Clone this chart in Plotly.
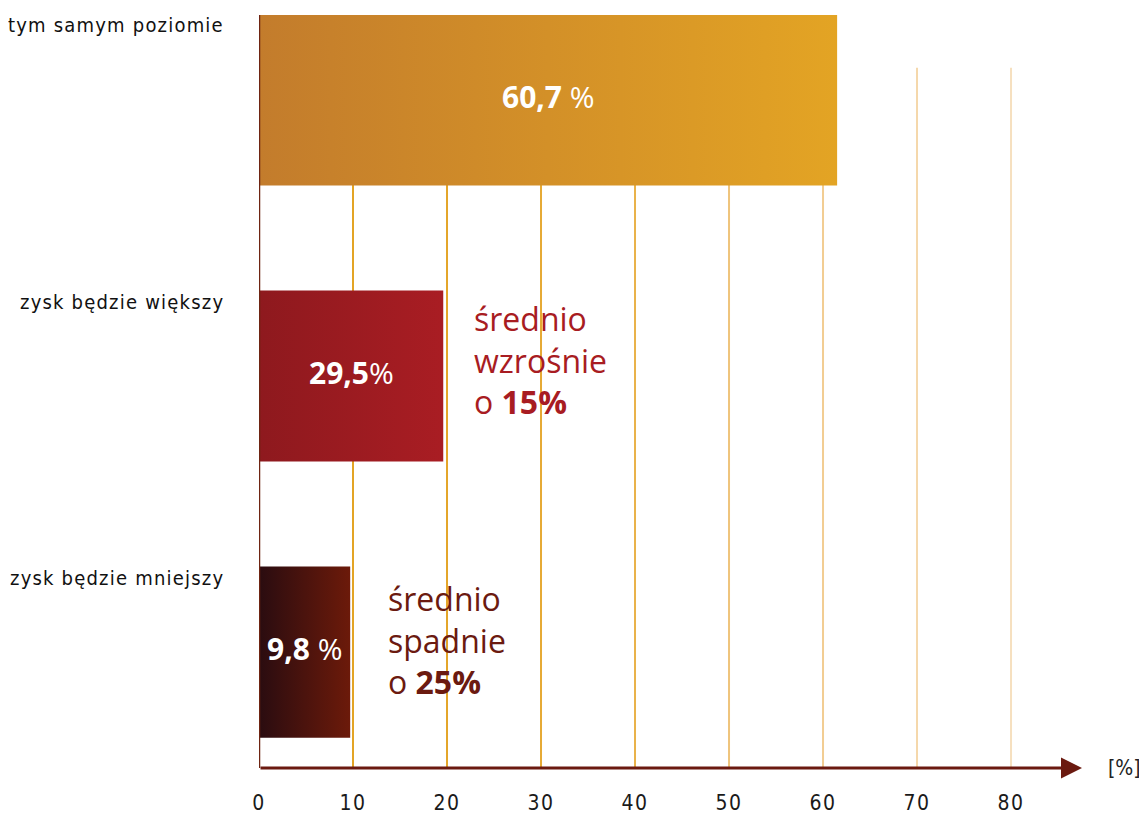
import plotly.graph_objects as go

# ---- data ----
categories = ["tym samym poziomie", "zysk będzie większy", "zysk będzie mniejszy"]
bar_lengths = [61.5, 19.6, 9.7]            # bar extent
value_labels = ["60,7", "29,5", "9,8"]     # printed values
value_suffix = [" %", "%", " %"]
side_notes = [None,
              ("średnio", "wzrośnie", "o ", "15%"),
              ("średnio", "spadnie", "o ", "25%")]
tick_values = [0, 10, 20, 30, 40, 50, 60, 70, 80]
tick_labels = ["0", "10", "20", "30", "40", "50", "60", "70", "80"]

# ---- styles ----
y_pos = [2, 1, 0]
half = 0.31
YMIN, YMAX = -0.42, 2.308
grads = [("#c37c2c", "#e3a424"), ("#8e191e", "#a91d23"), ("#2a0c10", "#6c1a0a")]
note_colors = [None, "#a81c22", "#6b1a10"]
grid_colors = ["#e3a425", "#e4a62a", "#e6aa35", "#e9b24a", "#efc47c",
               "#f2cd92", "#f5d8ab", "#f6e0bf"]
brown = "#6b1a10"
cond = "Liberation Sans Narrow, DejaVu Sans Condensed, sans-serif"
sans = "Open Sans, Noto Sans, sans-serif"
XMAX = 87.55

fig = go.Figure()

# bars as gradient-filled polygons
for v, y, (c0, c1) in zip(bar_lengths, y_pos, grads):
    fig.add_trace(go.Scatter(
        x=[0, v, v, 0, 0], y=[y - half, y - half, y + half, y + half, y - half],
        mode="lines", line=dict(width=0), fill="toself",
        fillgradient=dict(type="horizontal", colorscale=[[0, c0], [1, c1]]),
        hoverinfo="skip", showlegend=False))

shapes = []
# vertical gridlines
for tv, gc in zip(tick_values[1:], grid_colors):
    shapes.append(dict(type="line", xref="x", yref="paper", x0=tv, x1=tv,
                       y0=0, y1=0.93, line=dict(color=gc, width=2), layer="below"))
# left axis line
shapes.append(dict(type="line", xref="x", yref="paper", x0=0, x1=0, y0=0, y1=1,
                   line=dict(color="#6e2412", width=2.5), layer="above"))

annotations = []
# x-axis arrow
annotations.append(dict(x=XMAX, y=YMIN, xref="x", yref="y", ax=0, ay=YMIN,
                        axref="x", ayref="y", showarrow=True, arrowhead=2,
                        arrowsize=1.4, arrowwidth=3, arrowcolor=brown,
                        standoff=0, startstandoff=0, text=""))
annotations.append(dict(x=XMAX, y=0, xref="x", yref="paper", xanchor="left",
                        yanchor="middle", xshift=24, showarrow=False,
                        text="[%]", font=dict(family=cond, size=21, color="#222")))

note_xshift = [0, 29, 36]
note_yshift = [0, 16, 12]
for i, (cat, v, y, lab, suf, note, nc) in enumerate(zip(
        categories, bar_lengths, y_pos, value_labels, value_suffix,
        side_notes, note_colors)):
    # category label
    annotations.append(dict(
        x=0, y=y + half - 0.04, xref="x", yref="y", xanchor="right",
        yanchor="middle", xshift=-33, showarrow=False,
        text=f'<span style="letter-spacing:1.2px">{cat}</span>',
        font=dict(family=cond, size=20, color="#111")))
    # value label
    annotations.append(dict(
        x=v / 2, y=y, xref="x", yref="y", xanchor="center", yanchor="middle",
        yshift=4, showarrow=False, text=f"<b>{lab}</b>{suf}",
        font=dict(family=sans, size=30, color="white")))
    if note:
        annotations.append(dict(
            x=v, y=y, xref="x", yref="y", xanchor="left", yanchor="middle",
            xshift=note_xshift[i], yshift=note_yshift[i], showarrow=False,
            align="left",
            text=f"{note[0]}<br>{note[1]}<br>{note[2]}<b>{note[3]}</b>",
            font=dict(family=sans, size=32, color=nc)))

fig.update_layout(
    width=1139, height=806,
    margin=dict(l=251, r=65, t=7, b=46),
    paper_bgcolor="white", plot_bgcolor="white",
    shapes=shapes, annotations=annotations,
    xaxis=dict(range=[0, XMAX], showgrid=False, zeroline=False, showline=False,
               tickvals=tick_values, automargin=False,
               ticktext=[f'<span style="letter-spacing:1.5px">{t}</span>' for t in tick_labels],
               tickfont=dict(family=cond, size=21, color="#1a1a1a"),
               ticks="", ticklabelstandoff=20, fixedrange=True),
    yaxis=dict(range=[YMIN, YMAX], showgrid=False, zeroline=False, automargin=False,
               showline=False, showticklabels=False, fixedrange=True),
)

fig.write_html("out.html")
